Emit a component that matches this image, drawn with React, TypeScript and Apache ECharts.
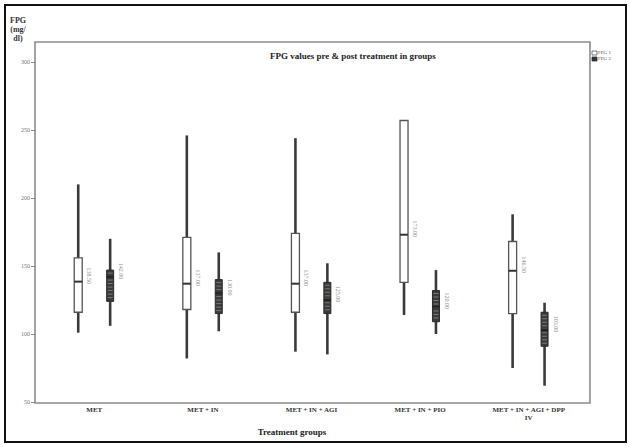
import React, { useEffect, useRef } from "react";
import * as echarts from "echarts";

const categories = ["MET", "MET + IN", "MET + IN + AGI", "MET + IN + PIO", "MET + IN + AGI + DPP IV"];

// FPG 1 (pre-treatment)
const preMin = [101, 82, 87, 114, 75];
const preQ1 = [116, 118, 116, 138, 115];
const preMedian = [138.5, 137, 137, 173, 146.5];
const preQ3 = [156, 171, 174, 257, 168];
const preMax = [210, 246, 244, 257, 188];

// FPG 2 (post-treatment)
const postMin = [106, 102, 85, 100, 62];
const postQ1 = [124, 115, 115, 109, 91];
const postMedian = [142, 130, 125, 120, 103];
const postQ3 = [147, 140, 138, 132, 116];
const postMax = [170, 160, 152, 147, 123];

const yTicks = [50, 100, 150, 200, 250, 300];
const seriesNames = ["FPG 1", "FPG 2"];

const SERIF = "'Liberation Serif', 'DejaVu Serif', serif";

function buildData(mn: number[], q1: number[], md: number[], q3: number[], mx: number[]) {
  return categories.map((_, i) => [i, mn[i], q1[i], md[i], q3[i], mx[i]]);
}

function makeRender(kind: "pre" | "post") {
  return (params: any, api: any) => {
    const idx = api.value(0);
    const pMin = api.coord([idx, api.value(1)]);
    const pQ1 = api.coord([idx, api.value(2)]);
    const pMed = api.coord([idx, api.value(3)]);
    const pQ3 = api.coord([idx, api.value(4)]);
    const pMax = api.coord([idx, api.value(5)]);
    const band = api.size([1, 0])[0];
    const off = kind === "pre" ? -band * 0.148 : band * 0.146;
    const x = pMin[0] + off;
    const w = kind === "pre" ? 8 : 7;
    const children: any[] = [];
    children.push({
      type: "line",
      shape: { x1: x, y1: pMax[1], x2: x, y2: pMin[1] },
      style: { stroke: "#3a3a3a", lineWidth: 2.6 },
    });
    if (kind === "pre") {
      children.push({
        type: "rect",
        shape: { x: x - w / 2, y: pQ3[1], width: w, height: pQ1[1] - pQ3[1] },
        style: { fill: "#ffffff", stroke: "#555555", lineWidth: 1.3 },
      });
      children.push({
        type: "line",
        shape: { x1: x - w / 2, y1: pMed[1], x2: x + w / 2, y2: pMed[1] },
        style: { stroke: "#333333", lineWidth: 2 },
      });
    } else {
      children.push({
        type: "rect",
        shape: { x: x - w / 2, y: pQ3[1], width: w, height: pQ1[1] - pQ3[1] },
        style: { fill: "#3a3a3a", stroke: "#2a2a2a", lineWidth: 1 },
      });
      for (let yy = pQ3[1] + 3; yy < pQ1[1] - 1; yy += 3.5) {
        children.push({
          type: "line",
          shape: { x1: x - w / 2 + 1, y1: yy, x2: x + w / 2 - 1, y2: yy },
          style: { stroke: "#8a8a8a", lineWidth: 0.8 },
        });
      }
      children.push({
        type: "line",
        shape: { x1: x - w / 2, y1: pMed[1], x2: x + w / 2, y2: pMed[1] },
        style: { stroke: "#222222", lineWidth: 2 },
      });
    }
    children.push({
      type: "text",
      x: x + 11,
      y: pMed[1] - 6,
      rotation: -Math.PI / 2,
      style: {
        text: Number(api.value(3)).toFixed(2),
        fill: "#8a8a8a",
        font: `6px ${SERIF}`,
        align: "center",
        verticalAlign: "middle",
      },
    });
    return { type: "group", children };
  };
}

export default function App() {
  const ref = useRef<HTMLDivElement>(null);
  useEffect(() => {
    if (!ref.current) return;
    const chart = echarts.init(ref.current, undefined, { renderer: "svg" });
    chart.setOption({
      animation: false,
      backgroundColor: "#ffffff",
      grid: { left: 40, right: 47, top: 62, bottom: 46 },
      xAxis: {
        type: "category",
        data: categories,
        boundaryGap: true,
        axisLine: { show: false },
        axisTick: { show: false },
        axisLabel: {
          fontFamily: SERIF,
          fontSize: 7,
          fontWeight: "bold",
          color: "#333",
          margin: 4,
          lineHeight: 8,
          formatter: (v: string) => v.replace(" DPP IV", " DPP\nIV"),
        },
      },
      yAxis: {
        type: "value",
        min: yTicks[0],
        max: yTicks[yTicks.length - 1],
        interval: 50,
        offset: 5,
        axisLine: { show: false },
        axisTick: { show: true, length: 4, lineStyle: { color: "#888", width: 1 } },
        splitLine: { show: false },
        axisLabel: { fontFamily: SERIF, fontSize: 6, color: "#777", margin: 5 },
      },
      graphic: [
        {
          type: "rect",
          shape: { x: 5, y: 5, width: 621, height: 437 },
          style: { fill: "none", stroke: "#111", lineWidth: 2 },
          z: 100,
        },
        {
          type: "rect",
          shape: { x: 35, y: 42, width: 555, height: 361 },
          style: { fill: "none", stroke: "#8c8c8c", lineWidth: 1.6 },
          z: 0,
        },
        {
          type: "text",
          x: 18,
          y: 16,
          style: {
            text: "FPG\n(mg/\ndl)",
            font: `bold 8px ${SERIF}`,
            fill: "#333",
            align: "center",
            lineHeight: 9,
          },
        },
        {
          type: "text",
          x: 270,
          y: 51,
          style: {
            text: "FPG values pre & post treatment in groups",
            font: `bold 9px ${SERIF}`,
            fill: "#222",
          },
        },
        {
          type: "rect",
          shape: { x: 592, y: 51, width: 5, height: 4 },
          style: { fill: "#fff", stroke: "#555", lineWidth: 0.8 },
        },
        {
          type: "text",
          x: 598,
          y: 50,
          style: { text: seriesNames[0], font: `5px ${SERIF}`, fill: "#555" },
        },
        {
          type: "rect",
          shape: { x: 592, y: 57, width: 5, height: 4 },
          style: { fill: "#333", stroke: "#333", lineWidth: 0.8 },
        },
        {
          type: "text",
          x: 598,
          y: 56,
          style: { text: seriesNames[1], font: `5px ${SERIF}`, fill: "#555" },
        },
        {
          type: "text",
          x: 292,
          y: 427,
          style: {
            text: "Treatment groups",
            font: `bold 9px ${SERIF}`,
            fill: "#222",
            align: "center",
          },
        },
      ],
      series: [
        {
          name: seriesNames[0],
          type: "custom",
          renderItem: makeRender("pre"),
          encode: { x: 0, y: [1, 2, 3, 4, 5] },
          data: buildData(preMin, preQ1, preMedian, preQ3, preMax),
          z: 5,
        },
        {
          name: seriesNames[1],
          type: "custom",
          renderItem: makeRender("post"),
          encode: { x: 0, y: [1, 2, 3, 4, 5] },
          data: buildData(postMin, postQ1, postMedian, postQ3, postMax),
          z: 5,
        },
      ],
    });
    return () => chart.dispose();
  }, []);
  return (
    <div
      ref={ref}
      style={{ position: "absolute", left: 0, top: 0, width: 630, height: 448 }}
    />
  );
}
